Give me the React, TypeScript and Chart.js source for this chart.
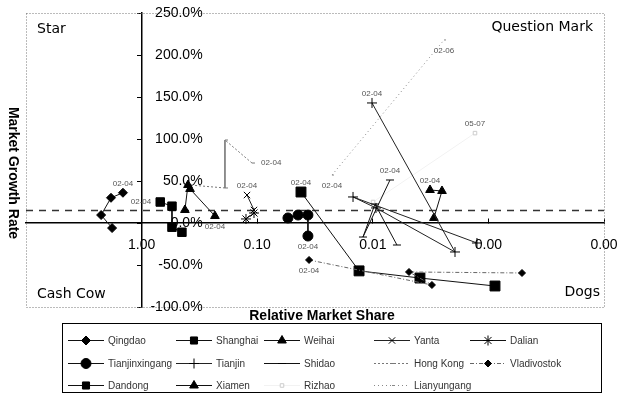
import React, { useEffect, useRef } from 'react';
import { Chart, registerables } from 'chart.js';
import { drawPoint } from 'chart.js/helpers';

Chart.register(...registerables);

// ---- data (relative market share, market growth rate %) ----
const seriesNames = ['Qingdao', 'Shanghai', 'Weihai', 'Yanta', 'Dalian', 'Tianjinxingang', 'Tianjin', 'Shidao', 'Hong Kong', 'Vladivostok', 'Dandong', 'Xiamen', 'Rizhao', 'Lianyungang'];

const qingdaoShare = [1.45, 1.84, 2.24, 1.8];
const qingdaoGrowth = [36, 30, 9.5, -6];
const qingdaoLabels = ['02-04', '', '', ''];

const shanghaiShare = [0.69, 0.546, 0.546, 0.448];
const shanghaiGrowth = [25, 20, -5, -11];
const shanghaiLabels = ['02-04', '', '', ''];

const weihaiShare = [0.232, 0.381, 0.397, 0.422];
const weihaiGrowth = [8.3, 40.5, 45.2, 15.5];
const weihaiLabels = ['02-04', '', '', ''];

const yantaShare = [0.1225, 0.1066];
const yantaGrowth = [33.3, 15.5];
const yantaLabels = ['02-04', ''];

const dalianShare = [0.1066, 0.125];
const dalianGrowth = [11.9, 4.8];
const dalianLabels = ['', ''];

const tianjinxingangShare = [0.0542, 0.0443, 0.0364, 0.0364];
const tianjinxingangGrowth = [6, 9.5, 9.5, -15.5];
const tianjinxingangLabels = ['', '', '', '02-04'];

const tianjinShare = [0.01016, 0.001945, 0.00938, 0.01483, 0.001256];
const tianjinGrowth = [142.9, -34.5, 17.9, 31, -23.8];
const tianjinLabels = ['02-04', '', '', '', ''];

const shidaoShare = [0.0071, 0.01216, 0.00957, 0.00618];
const shidaoGrowth = [51.2, -16.7, 22.6, -26.2];
const shidaoLabels = ['02-04', '', '', ''];

const hongKongShare = [0.111, 0.19, 0.19, 0.381];
const hongKongGrowth = [71.4, 98.8, 41.7, 45.2];
const hongKongLabels = ['02-04', '', '', ''];

const vladivostokShare = [0.0356, 0.00308, 0.00486, 0.000512];
const vladivostokGrowth = [-44, -73.8, -58.3, -59.5];
const vladivostokLabels = ['02-04', '', '', ''];

const dandongShare = [0.0418, 0.01315, 0.00391, 0.000877];
const dandongGrowth = [36.9, -57, -65.5, -75];
const dandongLabels = ['02-04', '', '', ''];

const xiamenShare = [0.0032, 0.00252, 0.00296];
const xiamenGrowth = [39.3, 38.1, 6];
const xiamenLabels = ['02-04', '', ''];

const rizhaoShare = [0.00995, 0.001306];
const rizhaoGrowth = [25, 107];
const rizhaoLabels = ['', '05-07'];

const lianyungangShare = [0.02254, 0.00242];
const lianyungangGrowth = [57.1, 217.9];
const lianyungangLabels = ['02-04', '02-06'];

const averageGrowth = 15;
const xTickValues = [1, 0.1, 0.01, 0.001, 0.0001];
const yTickStep = 50;
const quadrantLabels = ['Star', 'Question Mark', 'Cash Cow', 'Dogs'];
const xTitle = 'Relative Market Share';
const yTitle = 'Market Growth Rate';

const shares = [qingdaoShare, shanghaiShare, weihaiShare, yantaShare, dalianShare, tianjinxingangShare, tianjinShare, shidaoShare, hongKongShare, vladivostokShare, dandongShare, xiamenShare, rizhaoShare, lianyungangShare];
const growths = [qingdaoGrowth, shanghaiGrowth, weihaiGrowth, yantaGrowth, dalianGrowth, tianjinxingangGrowth, tianjinGrowth, shidaoGrowth, hongKongGrowth, vladivostokGrowth, dandongGrowth, xiamenGrowth, rizhaoGrowth, lianyungangGrowth];
const pointLabels = [qingdaoLabels, shanghaiLabels, weihaiLabels, yantaLabels, dalianLabels, tianjinxingangLabels, tianjinLabels, shidaoLabels, hongKongLabels, vladivostokLabels, dandongLabels, xiamenLabels, rizhaoLabels, lianyungangLabels];

// ---- styles ----
type Sty = { ps: any; r: number; line: string; fill: string; mark: string; dash: number[]; lw: number; pos: string };
const styles: Sty[] = [
  { ps: 'rectRot', r: 4.5, line: '#111', fill: '#000', mark: '#000', dash: [], lw: 1, pos: 'above' },
  { ps: 'rect', r: 6, line: '#111', fill: '#000', mark: '#000', dash: [], lw: 1, pos: 'left' },
  { ps: 'triangle', r: 5, line: '#111', fill: '#000', mark: '#000', dash: [], lw: 1, pos: 'below' },
  { ps: 'crossRot', r: 4.5, line: '#222', fill: '#000', mark: '#000', dash: [], lw: 1, pos: 'above' },
  { ps: 'star', r: 5, line: '#111', fill: '#000', mark: '#000', dash: [], lw: 1, pos: 'above' },
  { ps: 'circle', r: 5, line: '#111', fill: '#000', mark: '#000', dash: [], lw: 1, pos: 'below' },
  { ps: 'cross', r: 5, line: '#222', fill: '#000', mark: '#000', dash: [], lw: 1, pos: 'above' },
  { ps: 'line', r: 4, line: '#111', fill: '#000', mark: '#000', dash: [], lw: 1, pos: 'above' },
  { ps: 'dash', r: 3, line: '#777', fill: '#777', mark: '#777', dash: [2, 2], lw: 1, pos: 'right' },
  { ps: 'rectRot', r: 3.5, line: '#666', fill: '#000', mark: '#000', dash: [4, 2, 1, 2], lw: 1, pos: 'below' },
  { ps: 'rect', r: 7, line: '#111', fill: '#000', mark: '#000', dash: [], lw: 1, pos: 'above' },
  { ps: 'triangle', r: 5, line: '#111', fill: '#000', mark: '#000', dash: [], lw: 1, pos: 'above' },
  { ps: 'rect', r: 2.5, line: '#f2f2f2', fill: '#fff', mark: '#ccc', dash: [], lw: 1, pos: 'above' },
  { ps: 'dash', r: 2, line: '#888', fill: '#888', mark: '#888', dash: [1, 3], lw: 1, pos: 'below' },
];

const FONT = '"Liberation Sans", Arial, sans-serif';
const QFONT = '"DejaVu Sans", Verdana, sans-serif';

const extrasPlugin = {
  id: 'extras',
  beforeDatasetsDraw(chart: any) {
    const { ctx, chartArea: a } = chart;
    ctx.save();
    ctx.strokeStyle = '#777';
    ctx.lineWidth = 1;
    ctx.setLineDash([1, 2]);
    ctx.strokeRect(a.left + 0.5, a.top + 0.5, a.right - a.left, a.bottom - a.top);
    ctx.restore();
  },
  afterDatasetsDraw(chart: any) {
    const ctx = chart.ctx;
    ctx.save();
    ctx.font = '8px ' + FONT;
    ctx.fillStyle = '#555';
    pointLabels.forEach((labels, di) => {
      const meta = chart.getDatasetMeta(di);
      const pos = styles[di].pos;
      meta.data.forEach((el: any, i: number) => {
        const t = labels[i];
        if (!t) return;
        let x = el.x, y = el.y;
        ctx.textAlign = 'center';
        ctx.textBaseline = 'middle';
        if (pos === 'above') y -= 9;
        else if (pos === 'below') y += 11;
        else if (pos === 'left') { x -= 9; ctx.textAlign = 'right'; }
        else { x += 9; ctx.textAlign = 'left'; }
        ctx.fillText(t, x, y);
      });
    });
    ctx.restore();
  },
  afterDraw(chart: any) {
    const { ctx, chartArea: a } = chart;
    const xs = chart.scales.x, ys = chart.scales.y;
    ctx.save();
    // y tick labels (right of the value axis, right aligned)
    ctx.fillStyle = '#000';
    ctx.font = '14px ' + FONT;
    ctx.textAlign = 'right';
    ctx.textBaseline = 'middle';
    const axisX = xs.getPixelForValue(1);
    ys.ticks.forEach((t: any) => {
      ctx.fillText(Number(t.value).toFixed(1) + '%', axisX + 61, ys.getPixelForValue(t.value));
    });
    // quadrant labels
    ctx.font = '14px ' + QFONT;
    ctx.textAlign = 'left';
    ctx.fillText(quadrantLabels[0], a.left + 11, a.top + 16);
    ctx.fillText(quadrantLabels[2], a.left + 11, a.bottom - 13);
    ctx.textAlign = 'right';
    ctx.fillText(quadrantLabels[1], a.right - 11, a.top + 14);
    ctx.fillText(quadrantLabels[3], a.right - 4, a.bottom - 15);
    // axis titles
    ctx.font = 'bold 14px ' + FONT;
    ctx.textAlign = 'center';
    ctx.fillText(xTitle, 322, a.bottom + 9);
    ctx.save();
    ctx.translate(13, 173);
    ctx.rotate(Math.PI / 2);
    ctx.fillText(yTitle, 0, 0);
    ctx.restore();
    // legend
    const bx = 62, by = 323, bw = 539, bh = 69;
    ctx.strokeStyle = '#000';
    ctx.lineWidth = 1;
    ctx.setLineDash([]);
    ctx.strokeRect(bx + 0.5, by + 0.5, bw, bh);
    const cols = [68, 176, 264, 374, 470];
    const rows = [340, 363, 385];
    ctx.font = '10px ' + FONT;
    seriesNames.forEach((name, i) => {
      const s = styles[i];
      const x = cols[i % 5], y = rows[Math.floor(i / 5)];
      const len = 36;
      ctx.save();
      ctx.strokeStyle = s.line;
      ctx.lineWidth = s.lw;
      ctx.setLineDash(s.dash);
      ctx.beginPath();
      ctx.moveTo(x, y + 0.5);
      ctx.lineTo(x + len, y + 0.5);
      ctx.stroke();
      ctx.setLineDash([]);
      ctx.fillStyle = s.fill;
      ctx.strokeStyle = s.mark;
      drawPoint(ctx, { pointStyle: s.ps, rotation: 0, radius: Math.min(s.r, 5), borderWidth: 1 } as any, x + len / 2, y + 0.5);
      ctx.restore();
      ctx.fillStyle = '#333';
      ctx.textAlign = 'left';
      ctx.textBaseline = 'middle';
      ctx.fillText(name, x + len + 4, y + 1);
    });
    ctx.restore();
  },
};

export default function App() {
  const ref = useRef<HTMLCanvasElement | null>(null);
  useEffect(() => {
    if (!ref.current) return;
    const datasets: any[] = seriesNames.map((name, i) => {
      const s = styles[i];
      return {
        label: name,
        data: shares[i].map((v, j) => ({ x: v, y: growths[i][j] })),
        showLine: true,
        borderColor: s.line,
        borderWidth: s.lw,
        borderDash: s.dash,
        pointStyle: s.ps,
        pointRadius: s.r,
        pointBackgroundColor: s.fill,
        pointBorderColor: s.mark,
        pointBorderWidth: 1,
        segment: i === 8 ? { borderDash: (c: any) => (c.p0DataIndex === 1 ? [] : [2, 2]), borderColor: (c: any) => (c.p0DataIndex === 1 ? '#222' : '#777') } : undefined,
      };
    });
    datasets.push({
      label: 'avg',
      data: [{ x: 10, y: averageGrowth }, { x: 0.0001, y: averageGrowth }],
      showLine: true,
      borderColor: '#333',
      borderWidth: 1.5,
      borderDash: [7, 6],
      pointRadius: 0,
    });
    const chart = new Chart(ref.current, {
      type: 'scatter',
      data: { datasets },
      options: {
        animation: false,
        responsive: false,
        devicePixelRatio: 1,
        layout: { padding: { left: 26, top: 13, right: 15, bottom: 89 } },
        plugins: { legend: { display: false }, tooltip: { enabled: false } },
        scales: {
          x: {
            type: 'logarithmic',
            reverse: true,
            min: 0.0001,
            max: 10,
            position: { y: 0 } as any,
            afterBuildTicks: (sc: any) => { sc.ticks = xTickValues.map((v) => ({ value: v })); },
            afterFit: (sc: any) => { sc.paddingLeft = 0; sc.paddingRight = 0; },
            ticks: {
              callback: (v: any) => Number(v).toFixed(2),
              font: { family: FONT, size: 14 },
              color: '#000',
              padding: 19,
              maxRotation: 0,
              autoSkip: false,
            },
            grid: { drawOnChartArea: false, drawTicks: true, tickLength: -5, color: '#000' },
            border: { color: '#000', width: 1.5 },
          },
          y: {
            type: 'linear',
            min: -100,
            max: 250,
            position: { x: 1 } as any,
            afterFit: (sc: any) => { sc.paddingTop = 0; sc.paddingBottom = 0; },
            ticks: { stepSize: yTickStep, display: false },
            grid: { drawOnChartArea: false, drawTicks: true, tickLength: 4, color: '#000' },
            border: { color: '#000', width: 1.5 },
          },
        },
      },
      plugins: [extrasPlugin],
    });
    return () => chart.destroy();
  }, []);
  return (
    <div style={{ position: 'absolute', left: 0, top: 0, width: 619, height: 396, background: '#fff' }}>
      <canvas ref={ref} width={619} height={396} style={{ display: 'block' }} />
    </div>
  );
}
